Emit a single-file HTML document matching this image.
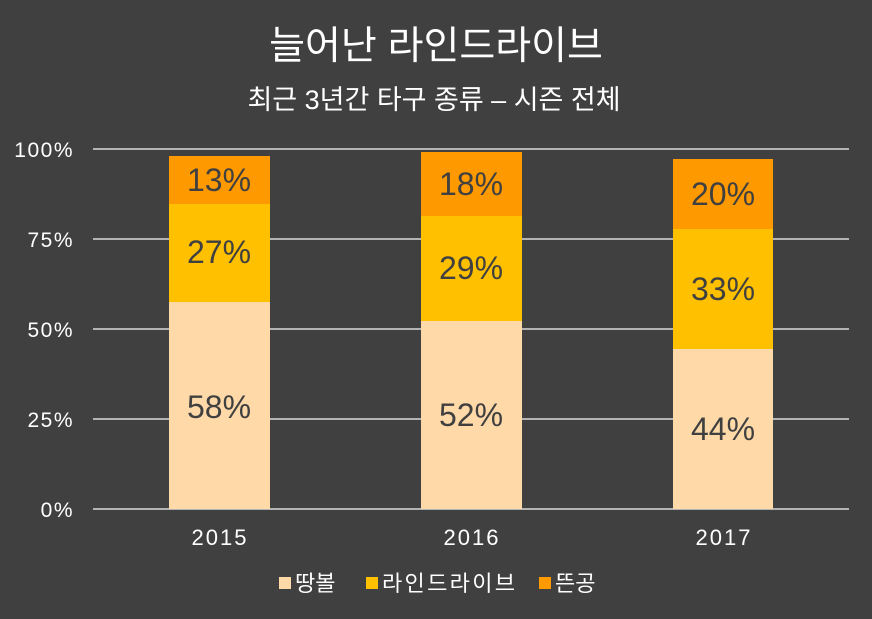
<!DOCTYPE html>
<html><head><meta charset="utf-8"><style>
body{margin:0;background:#404040;}
svg{display:block}
text{font-family:"Liberation Sans","Noto Sans CJK KR",sans-serif;}
</style></head><body>
<svg width="872" height="619" viewBox="0 0 872 619">
<rect width="872" height="619" fill="#404040"/>
<text x="436" y="59" text-anchor="middle" fill="#fff" font-size="39">늘어난 라인드라이브</text>
<text x="434" y="109" text-anchor="middle" fill="#fff" font-size="27">최근 3년간 타구 종류 – 시즌 전체</text>
<g stroke="#d9d9d9" stroke-width="1.5">
<line x1="93" x2="849" y1="149" y2="149"/>
<line x1="93" x2="849" y1="239" y2="239"/>
<line x1="93" x2="849" y1="329" y2="329"/>
<line x1="93" x2="849" y1="419" y2="419"/>
<line x1="93" x2="849" y1="509" y2="509"/>
</g>
<g fill="#fff" font-size="21" text-anchor="end" letter-spacing="1.5">
<text x="74" y="157">100%</text>
<text x="74" y="247">75%</text>
<text x="74" y="337">50%</text>
<text x="74" y="427">25%</text>
<text x="74" y="517">0%</text>
</g>
<rect x="169" y="302" width="101" height="207" fill="#FFDAA8"/>
<rect x="169" y="204" width="101" height="98" fill="#FFC000"/>
<rect x="169" y="156" width="101" height="48" fill="#FF9900"/>
<rect x="421" y="321" width="101" height="188" fill="#FFDAA8"/>
<rect x="421" y="216" width="101" height="105" fill="#FFC000"/>
<rect x="421" y="152" width="101" height="64" fill="#FF9900"/>
<rect x="673" y="349" width="100" height="160" fill="#FFDAA8"/>
<rect x="673" y="229" width="100" height="120" fill="#FFC000"/>
<rect x="673" y="159" width="100" height="70" fill="#FF9900"/>
<g fill="#404040" font-size="32" text-anchor="middle">
<text x="219" y="418">58%</text>
<text x="219" y="263">27%</text>
<text x="219" y="191">13%</text>
<text x="471" y="426">52%</text>
<text x="471" y="279">29%</text>
<text x="471" y="195">18%</text>
<text x="723" y="440">44%</text>
<text x="723" y="300">33%</text>
<text x="723" y="205">20%</text>
</g>
<g fill="#fff" font-size="22" text-anchor="middle" letter-spacing="2">
<text x="220" y="545">2015</text>
<text x="472" y="545">2016</text>
<text x="724" y="545">2017</text>
</g>
<g font-size="22" fill="#fff">
<rect x="279" y="577" width="12" height="12" fill="#FFDAA8"/>
<text x="295" y="591">땅볼</text>
<rect x="366" y="577" width="12" height="12" fill="#FFC000"/>
<text x="382" y="591" textLength="133">라인드라이브</text>
<rect x="539" y="577" width="12" height="12" fill="#FF9900"/>
<text x="555" y="591">뜬공</text>
</g>
</svg>
</body></html>
